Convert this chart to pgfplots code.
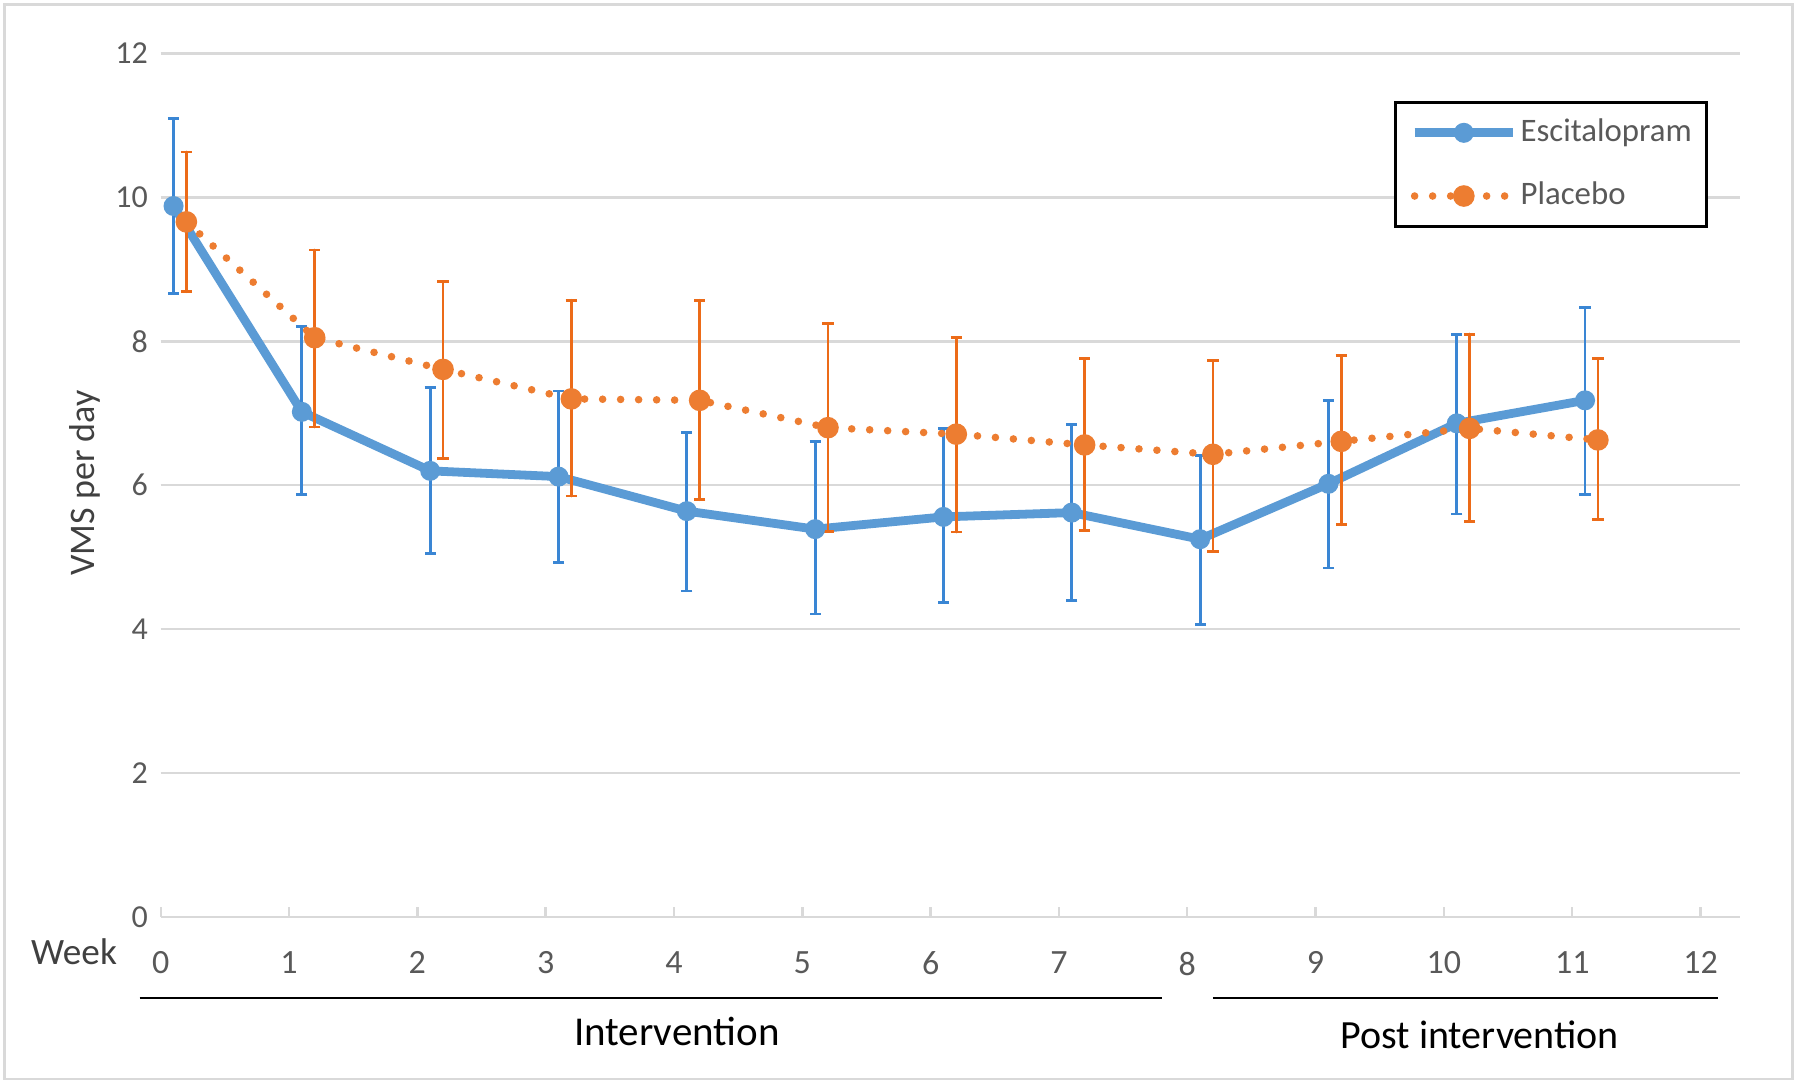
\documentclass[border=0pt]{standalone}
\usepackage{pgfplots}
\usepackage{pgfplotstable}
\pgfplotsset{compat=1.18}
\usepackage{fontspec}
\setmainfont{Carlito}
\definecolor{escblue}{HTML}{5B9BD5}
\definecolor{placorange}{HTML}{ED7D31}
\definecolor{escerr}{HTML}{3A86D4}
\definecolor{placerr}{HTML}{EC6B18}
\definecolor{gridgray}{HTML}{D9D9D9}
\definecolor{ticktext}{HTML}{595959}
\definecolor{labeltext}{HTML}{404040}

\pgfplotstableread{
x y ep em
0.1 9.88 1.22 1.21
1.1 7.02 1.19 1.15
2.1 6.20 1.16 1.15
3.1 6.12 1.19 1.19
4.1 5.64 1.09 1.11
5.1 5.39 1.22 1.18
6.1 5.56 1.23 1.19
7.1 5.62 1.22 1.22
8.1 5.25 1.16 1.19
9.1 6.02 1.16 1.17
10.1 6.86 1.24 1.26
11.1 7.18 1.29 1.31
}\esc

\pgfplotstableread{
x y ep em
0.2 9.66 0.97 0.97
1.2 8.05 1.22 1.24
2.2 7.61 1.22 1.24
3.2 7.20 1.37 1.35
4.2 7.18 1.39 1.38
5.2 6.80 1.45 1.44
6.2 6.71 1.34 1.36
7.2 6.56 1.20 1.19
8.2 6.43 1.30 1.35
9.2 6.61 1.19 1.16
10.2 6.79 1.31 1.29
11.2 6.63 1.13 1.11
}\plac

\begin{document}
\begin{tikzpicture}
\draw[gridgray, line width=0.7pt] (1.15pt,1.5pt) rectangle (448.1pt,270.1pt);
\begin{axis}[
  at={(40.18pt,42pt)}, anchor=south west,
  x=32.08pt, y=17.99pt,
  xmin=0, xmax=12.31, ymin=0, ymax=12,
  clip=false,
  axis line style={draw=none},
  xtick={0,1,...,12}, ytick={0,2,...,12},
  xtick pos=bottom, ytick pos=left,
  tick align=inside, major tick length=2.5pt,
  xtick style={draw=gridgray, line width=0.6pt},
  ytick style={draw=none},
  ymajorgrids, grid style={draw=gridgray, line width=0.6pt},
  /pgf/number format/assume math mode=true,
  xticklabel style={font=\fontsize{8.5}{10}\selectfont, text=ticktext, inner sep=0pt, anchor=north},
  xticklabel shift=8.5pt,
  yticklabel style={font=\fontsize{8}{10}\selectfont, text=ticktext, inner sep=0pt, anchor=east},
  yticklabel shift=3.05pt,
  legend cell align=left,
  legend image code/.code={\draw[mark repeat=2,mark phase=2,#1] plot coordinates {(0pt,0pt)(12.3pt,0pt)(24.6pt,0pt)};},
  legend style={at={(0.7807,0.9446)}, anchor=north west, draw=black, line width=0.75pt, fill=white,
    inner xsep=3.7pt, inner ysep=3.5pt, row sep=7.8pt, column sep=0.8pt,
    font=\fontsize{8.2}{10}\selectfont, text=ticktext,
    nodes={inner sep=0pt, text height=6.2pt, text depth=1.8pt}},
]
\addplot[color=escblue, line width=2.2pt, mark=*, mark size=2.3pt,
  mark options={solid, fill=escblue, line width=0.4pt},
  error bars/.cd, y dir=both, y explicit,
  error bar style={solid, line width=0.7pt, color=escerr},
  error mark options={rotate=90, mark size=1.4pt, line width=0.7pt, color=escerr, solid}]
  table[x=x, y=y, y error plus=ep, y error minus=em] {\esc};
\addlegendentry{Escitalopram}
\addplot[color=placorange, line width=1.9pt, dash pattern=on 0pt off 4.5pt, line cap=round,
  mark=*, mark size=2.5pt,
  mark options={solid, fill=placorange, line width=0.4pt},
  error bars/.cd, y dir=both, y explicit,
  error bar style={solid, line width=0.7pt, color=placerr},
  error mark options={rotate=90, mark size=1.4pt, line width=0.7pt, color=placerr, solid}]
  table[x=x, y=y, y error plus=ep, y error minus=em] {\plac};
\addlegendentry{Placebo}
\end{axis}
\node[anchor=base west, inner sep=0pt, font=\fontsize{9.3}{10}\selectfont, text=labeltext] at (7.6pt,30.1pt) {Week};
\node[rotate=90, anchor=base, font=\fontsize{9}{10}\selectfont, text=labeltext] at (23.5pt,150.5pt) {VMS per day};
\draw[line width=0.5pt] (34.9pt,21.75pt) -- (290.6pt,21.75pt);
\draw[line width=0.5pt] (303.2pt,21.75pt) -- (429.5pt,21.75pt);
\node[anchor=base, font=\fontsize{10.25}{12}\selectfont] at (169.2pt,10pt) {Intervention};
\node[anchor=base, font=\fontsize{10}{12}\selectfont] at (369.9pt,9.25pt) {Post intervention};
\pgfresetboundingbox
\useasboundingbox (0,0) rectangle (450pt,271.25pt);
\end{tikzpicture}
\end{document}
